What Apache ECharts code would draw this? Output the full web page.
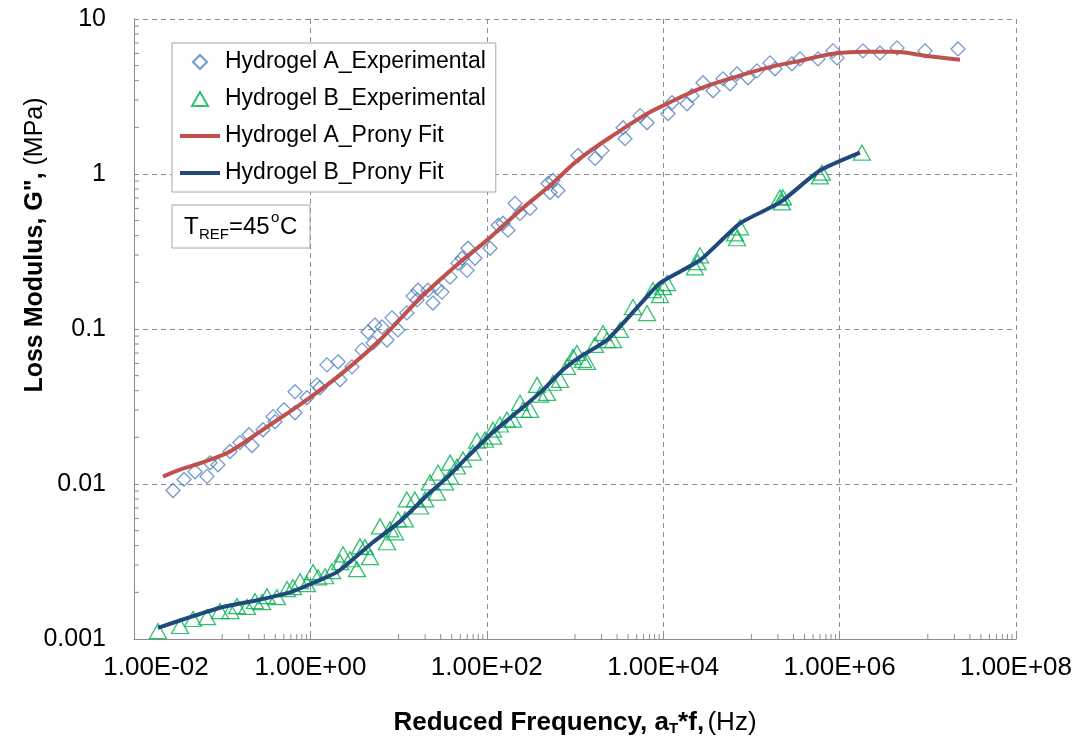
<!DOCTYPE html>
<html>
<head>
<meta charset="utf-8">
<script src="https://cdn.jsdelivr.net/npm/echarts@6/dist/echarts.min.js"></script>
<style>html,body{margin:0;padding:0;background:#fff}#c{width:1086px;height:744px}</style>
</head>
<body>
<div id="c"></div>
<script>
// ---------------- DATA ----------------
const seriesNames = ['Hydrogel A_Experimental', 'Hydrogel B_Experimental', 'Hydrogel A_Prony Fit', 'Hydrogel B_Prony Fit'];
const xTickLabels = ['1.00E-02', '1.00E+00', '1.00E+02', '1.00E+04', '1.00E+06', '1.00E+08'];
const yTickLabels = ['0.001', '0.01', '0.1', '1', '10'];

const hydrogelA_exp = [
  [0.0277,0.00908],[0.0369,0.0107],[0.0492,0.0120],[0.0673,0.0112],[0.0728,0.0137],[0.0896,0.0133],
  [0.1225,0.0162],[0.159,0.0185],[0.201,0.0208],[0.218,0.0177],[0.290,0.0224],[0.377,0.0272],
  [0.397,0.0252],[0.502,0.0301],[0.669,0.0394],[0.669,0.0288],[0.914,0.0360],[1.19,0.0436],
  [1.28,0.0418],[1.54,0.0587],[2.06,0.0614],[2.17,0.0470],[2.96,0.0570],[3.85,0.0733],
  [4.50,0.0957],[5.13,0.0813],[5.38,0.106],[6.49,0.103],[7.39,0.0849],[8.42,0.118],[9.84,0.0986],
  [12.4,0.127],[14.6,0.163],[16.2,0.154],[16.6,0.178],[21.5,0.178],[24.5,0.147],[27.3,0.184],
  [31.0,0.173],[38.3,0.216],[47.1,0.266],[52.5,0.286],[59.7,0.239],[61.2,0.332],[73.5,0.286],
  [109,0.332],[135,0.467],[153,0.481],[174,0.434],[209,0.646],[238,0.557],[309,0.600],
  [494,0.869],[521,0.760],[562,0.908],[641,0.783],[1081,1.315],[1687,1.26],[2024,1.416],
  [3508,1.99],[3693,1.69],[5460,2.38],[6560,2.14],[11350,2.45],[12590,2.88],[18620,2.84],
  [21220,3.20],[28260,3.88],[36730,3.44],[47650,4.11],[57180,3.82],[68700,4.43],[91500,4.18],
  [115700,4.63],[162500,5.21],[185000,4.77],[288000,5.14],[355000,5.53],[569000,5.53],
  [841000,6.23],[935000,5.61],[1.84e6,6.23],[2.87e6,6.04],[4.48e6,6.51],[9.3e6,6.23],[2.2e7,6.41]
];

const hydrogelB_exp = [
  [0.0187,0.001125],[0.0333,0.001213],[0.0467,0.001346],[0.0673,0.001385],[0.0944,0.001514],
  [0.124,0.001514],[0.147,0.00163],[0.191,0.00161],[0.235,0.001755],[0.283,0.00173],[0.322,0.00189],
  [0.418,0.00186],[0.543,0.0021],[0.634,0.00216],[0.762,0.00236],[0.914,0.00226],[1.07,0.0027],
  [1.22,0.0025],[1.47,0.00254],[1.76,0.00274],[2.17,0.00313],[2.34,0.00352],[2.81,0.00327],
  [3.38,0.00282],[3.65,0.00396],[4.16,0.00391],[4.74,0.00337],[6.15,0.00533],[7.39,0.00421],
  [7.99,0.00510],[9.1,0.00488],[9.84,0.00591],[11.8,0.00591],[12.4,0.00795],[15.3,0.00795],
  [17.5,0.00716],[20.0,0.00795],[22.7,0.01023],[27.2,0.00881],[28.0,0.01186],[33.6,0.01023],
  [38.3,0.01374],[38.3,0.01117],[45.9,0.01297],[53.7,0.0144],[69.7,0.01595],[77.4,0.01905],
  [95.3,0.0193],[117.5,0.0224],[117.5,0.0202],[141,0.0242],[169,0.026],[198,0.026],[238,0.0334],
  [257,0.0301],[309,0.0301],[371,0.0436],[401,0.0377],[481,0.0387],[562,0.0450],[676,0.0470],
  [811,0.0570],[948,0.0661],[1052,0.0701],[1231,0.0632],[1367,0.0614],[1687,0.0789],[2076,0.0942],
  [2306,0.0849],[2698,0.0849],[3236,0.0986],[4543,0.1385],[6546,0.1267],[7656,0.178],[9200,0.1655],
  [9950,0.186],[11040,0.198],[22900,0.250],[24500,0.27],[26100,0.299],[65200,0.414],[68700,0.385],
  [74300,0.453],[211000,0.706],[222000,0.656],[228000,0.706],[598000,0.964],[631000,1.02],[1.79e6,1.375]
];

const hydrogelA_fit = [
  [0.0213,0.01117],[0.0333,0.0124],[0.0638,0.01396],[0.1225,0.0162],[0.268,0.0218],[0.762,0.0325],
  [2.17,0.0506],[6.15,0.0849],[17.5,0.158],[49.7,0.270],[100,0.373],[238,0.582],[521,0.843],
  [1140,1.26],[3236,1.90],[6560,2.45],[11040,2.84],[26100,3.55],[61800,4.18],[150000,4.84],
  [355000,5.37],[841000,5.96],[2.04e6,6.14],[4.03e6,6.14],[9.8e6,5.78],[2.32e7,5.45]
];

const hydrogelB_fit = [
  [0.0187,0.001178],[0.0432,0.001385],[0.102,0.00161],[0.248,0.00178],[0.587,0.0020],[1.19,0.00236],
  [2.0,0.0027],[3.04,0.00327],[5.13,0.00421],[10.4,0.00574],[22.7,0.00881],[35.4,0.0110],
  [56.6,0.0144],[109,0.0208],[238,0.0301],[434,0.0405],[731,0.0545],[1140,0.0661],[2306,0.0849],
  [5755,0.149],[9200,0.198],[26100,0.278],[74300,0.481],[211000,0.656],[598000,1.053],[1.70e6,1.375]
];

// minor tick positions (Excel log base-100 x axis: 10x..90x of each cycle; y: 2..9 per decade)
const xMinorTicks = [];
[0.01, 1, 100, 1e4, 1e6].forEach(b => { for (let k = 1; k <= 9; k++) xMinorTicks.push(b * 10 * k); });
const yMinorTicks = [];
[0.001, 0.01, 0.1, 1].forEach(b => { for (let k = 2; k <= 9; k++) yMinorTicks.push(b * k); });

// ---------------- CHART ----------------
const X_MIN = 0.01, X_MAX = 1e8, Y_MIN = 0.001, Y_MAX = 10;
const FONT = '"Liberation Sans", Arial, sans-serif';
const GRID_COLOR = '#8c8c8c';
const COLORS = ['#4F81BD', '#00B050', '#C0504D', '#1F497D'];

const chart = echarts.init(document.getElementById('c'), null, { renderer: 'canvas' });

function tickSeries(data, isX) {
  return {
    type: 'custom', silent: true, z: 5, clip: false,
    data: data.map(v => isX ? [v, Y_MIN] : [X_MIN, v]),
    renderItem: function (params, api) {
      const p = api.coord([api.value(0), api.value(1)]);
      return {
        type: 'line',
        shape: isX ? { x1: p[0], y1: p[1], x2: p[0], y2: p[1] - 5 } : { x1: p[0], y1: p[1], x2: p[0] + 5, y2: p[1] },
        style: { stroke: GRID_COLOR, lineWidth: 1 }
      };
    }
  };
}

const hiddenDot = { color: 'rgba(0,0,0,0)', borderWidth: 0, opacity: 0 };

chart.setOption({
  animation: false,
  backgroundColor: '#fff',
  textStyle: { fontFamily: FONT },
  grid: { left: 134, right: 70, top: 19, bottom: 105 },
  xAxis: {
    type: 'log', logBase: 100, min: X_MIN, max: X_MAX,
    axisLine: { show: true, lineStyle: { color: GRID_COLOR, width: 1 } },
    axisTick: { show: true, inside: true, length: 5, lineStyle: { color: GRID_COLOR } },
    splitLine: { show: true, lineStyle: { color: GRID_COLOR, type: [5, 4], width: 1 } },
    axisLabel: {
      fontFamily: FONT, fontSize: 26, color: '#000', margin: 16,
      formatter: function (v) {
        const i = Math.round((Math.log10(v) + 2) / 2);
        return i === 0 ? '{first|' + xTickLabels[i] + '}' : xTickLabels[i];
      },
      rich: { first: { fontFamily: FONT, fontSize: 26, color: '#000', padding: [0, 0, 0, 44] } }
    },
    name: '{b|Reduced Frequency, a}{bs|T}{b|*f,} {n|(Hz)}',
    nameLocation: 'middle', nameGap: 70,
    nameTextStyle: {
      rich: {
        b: { fontFamily: FONT, fontSize: 26, fontWeight: 'bold', color: '#000' },
        bs: { fontFamily: FONT, fontSize: 15, fontWeight: 'bold', color: '#000', padding: [12, 0, 0, 0] },
        n: { fontFamily: FONT, fontSize: 26, color: '#000' }
      }
    }
  },
  yAxis: {
    type: 'log', logBase: 10, min: Y_MIN, max: Y_MAX,
    axisLine: { show: true, lineStyle: { color: GRID_COLOR, width: 1 } },
    axisTick: { show: true, inside: true, length: 5, lineStyle: { color: GRID_COLOR } },
    splitLine: { show: true, lineStyle: { color: GRID_COLOR, type: [5, 4], width: 1 } },
    axisLabel: {
      fontFamily: FONT, fontSize: 25, color: '#000', margin: 28,
      formatter: function (v) { return yTickLabels[Math.round(Math.log10(v) + 3)]; }
    }
  },
  legend: {
    orient: 'vertical', left: 172, top: 43,
    data: [
      { name: seriesNames[0], icon: 'path://M0,-1L1,0L0,1L-1,0Z' },
      { name: seriesNames[1], icon: 'path://M0,-1L1,0.75L-1,0.75Z' },
      { name: seriesNames[2], itemStyle: hiddenDot, lineStyle: { width: 4, color: COLORS[2] } },
      { name: seriesNames[3], itemStyle: hiddenDot, lineStyle: { width: 4, color: COLORS[3] } }
    ],
    symbolKeepAspect: true,
    itemWidth: 40, itemHeight: 14, itemGap: 13,
    padding: [7, 10, 7, 6],
    backgroundColor: '#fff', borderColor: '#A6A6A6', borderWidth: 1,
    textStyle: { fontFamily: FONT, fontSize: 23, color: '#000', lineHeight: 24 }
  },
  graphic: [
    { type: 'rect', z: 100, shape: { x: 172, y: 205, width: 138, height: 43 }, style: { fill: '#fff', stroke: '#A6A6A6', lineWidth: 1 } },
    { type: 'text', z: 101, x: 184, y: 227, style: { text: 'T', font: '24px ' + FONT, fill: '#000', verticalAlign: 'middle', align: 'left' } },
    { type: 'text', z: 101, x: 199, y: 235, style: { text: 'REF', font: '15px ' + FONT, fill: '#000', verticalAlign: 'middle', align: 'left' } },
    { type: 'text', z: 101, x: 229, y: 227, style: { text: '=45', font: '24px ' + FONT, fill: '#000', verticalAlign: 'middle', align: 'left' } },
    { type: 'text', z: 101, x: 271, y: 218, style: { text: 'o', font: '15px ' + FONT, fill: '#000', verticalAlign: 'middle', align: 'left' } },
    { type: 'text', z: 101, x: 280, y: 227, style: { text: 'C', font: '24px ' + FONT, fill: '#000', verticalAlign: 'middle', align: 'left' } },
    {
      type: 'text', z: 101, x: 35, y: 245, rotation: Math.PI / 2,
      style: {
        text: '{b|Loss Modulus, G", }{n|(MPa)}', align: 'center', verticalAlign: 'middle',
        rich: {
          b: { fontFamily: FONT, fontSize: 25, fontWeight: 'bold', fill: '#000', color: '#000' },
          n: { fontFamily: FONT, fontSize: 25, fill: '#000', color: '#000' }
        }
      }
    }
  ],
  series: [
    {
      name: seriesNames[0], type: 'scatter', symbol: 'diamond', symbolSize: 14, z: 2,
      data: hydrogelA_exp,
      itemStyle: { color: 'rgba(255,255,255,0)', borderColor: COLORS[0], borderWidth: 1.3 }
    },
    {
      name: seriesNames[1], type: 'scatter', symbol: 'triangle', symbolSize: [17, 15], z: 2,
      data: hydrogelB_exp,
      itemStyle: { color: 'rgba(255,255,255,0)', borderColor: COLORS[1], borderWidth: 1.3 }
    },
    {
      name: seriesNames[2], type: 'line', data: hydrogelA_fit, smooth: 0.35, symbol: 'none', z: 3,
      lineStyle: { color: COLORS[2], width: 4 }, itemStyle: { color: COLORS[2] }
    },
    {
      name: seriesNames[3], type: 'line', data: hydrogelB_fit, smooth: 0.2, symbol: 'none', z: 3,
      lineStyle: { color: COLORS[3], width: 4 }, itemStyle: { color: COLORS[3] }
    },
    tickSeries(xMinorTicks, true),
    tickSeries(yMinorTicks, false)
  ]
});
</script>
</body>
</html>
